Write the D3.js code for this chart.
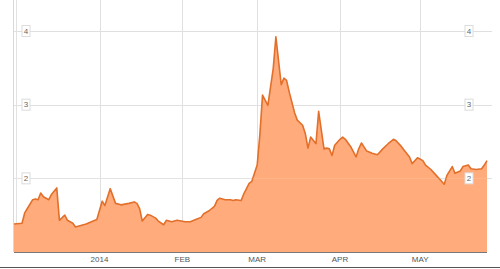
<!DOCTYPE html>
<html>
<head>
<meta charset="utf-8">
<script src="https://cdn.jsdelivr.net/npm/d3@7/dist/d3.min.js"></script>
<style>
  html, body { margin: 0; padding: 0; background: #fff; }
  svg { display: block; font-family: Arial, "Liberation Sans", sans-serif; }
</style>
</head>
<body>
<svg id="chart" width="500" height="269"></svg>
<script>
const dates = [
  "2013-11-30","2013-12-03","2013-12-04","2013-12-05","2013-12-07","2013-12-08","2013-12-09","2013-12-10",
  "2013-12-11","2013-12-13","2013-12-14","2013-12-16","2013-12-17","2013-12-19","2013-12-20","2013-12-22",
  "2013-12-23","2013-12-27","2013-12-31",
  "2014-01-02","2014-01-03","2014-01-05","2014-01-07","2014-01-09","2014-01-12","2014-01-14","2014-01-15",
  "2014-01-16","2014-01-17","2014-01-19","2014-01-20","2014-01-22","2014-01-23","2014-01-25","2014-01-26",
  "2014-01-28","2014-01-30",
  "2014-02-02","2014-02-04","2014-02-06","2014-02-08","2014-02-09","2014-02-11","2014-02-13","2014-02-14",
  "2014-02-15","2014-02-17","2014-02-19","2014-02-20","2014-02-21","2014-02-23","2014-02-24","2014-02-25",
  "2014-02-26","2014-02-27",
  "2014-03-01","2014-03-02","2014-03-03","2014-03-05","2014-03-07","2014-03-08","2014-03-10","2014-03-11",
  "2014-03-12","2014-03-13","2014-03-15","2014-03-16","2014-03-18","2014-03-19","2014-03-20","2014-03-21",
  "2014-03-23","2014-03-24","2014-03-26","2014-03-27","2014-03-28","2014-03-29","2014-03-30",
  "2014-04-01","2014-04-02","2014-04-03","2014-04-05","2014-04-07","2014-04-08","2014-04-09","2014-04-11",
  "2014-04-13","2014-04-15","2014-04-17","2014-04-19","2014-04-21","2014-04-22","2014-04-24","2014-04-25",
  "2014-04-27","2014-04-28","2014-04-30",
  "2014-05-02","2014-05-03","2014-05-05","2014-05-07","2014-05-09","2014-05-10","2014-05-11","2014-05-13",
  "2014-05-14","2014-05-16","2014-05-17","2014-05-19","2014-05-20","2014-05-22","2014-05-24","2014-05-25",
  "2014-05-26"
];
const values = [
  1.38,1.39,1.53,1.59,1.71,1.72,1.71,1.80,
  1.75,1.71,1.78,1.87,1.43,1.50,1.43,1.39,
  1.34,1.38,1.44,
  1.69,1.63,1.86,1.66,1.64,1.66,1.68,1.66,
  1.59,1.42,1.51,1.50,1.46,1.42,1.37,1.43,
  1.41,1.43,
  1.41,1.41,1.44,1.47,1.52,1.56,1.62,1.70,
  1.73,1.71,1.71,1.70,1.71,1.70,1.79,1.86,
  1.93,1.96,
  2.18,2.59,3.13,2.99,3.49,3.92,3.27,3.36,
  3.33,3.17,2.89,2.79,2.72,2.61,2.41,2.56,
  2.47,2.91,2.40,2.41,2.40,2.31,2.45,
  2.53,2.56,2.53,2.43,2.29,2.40,2.48,2.37,
  2.34,2.32,2.40,2.47,2.53,2.51,2.43,2.38,
  2.29,2.20,2.28,
  2.24,2.18,2.12,2.04,1.96,1.92,2.04,2.16,
  2.07,2.10,2.16,2.18,2.13,2.12,2.13,2.18,
  2.24
];
const monthTicks = ["2014-01-01","2014-02-01","2014-03-01","2014-04-01","2014-05-01"];
const monthLabels = ["2014","FEB","MAR","APR","MAY"];
const yTicks = [2, 3, 4];
const yDomain = [1, 4];

const parse = d3.timeParse("%Y-%m-%d");
const data = dates.map((d, i) => ({ date: parse(d), value: values[i] }));

const svg = d3.select("#chart");
const x = d3.scaleTime()
  .domain([parse(dates[0]), parse(dates[dates.length - 1])])
  .range([14, 487]);
const y = d3.scaleLinear().domain(yDomain).range([252, 31]);

// left border lines
svg.append("line").attr("x1", 13.5).attr("x2", 13.5).attr("y1", 0).attr("y2", 252)
  .attr("stroke", "#d8d8d8").attr("stroke-width", 1);
svg.append("line").attr("x1", 16.5).attr("x2", 16.5).attr("y1", 0).attr("y2", 252)
  .attr("stroke", "#e2e2e2").attr("stroke-width", 1);

// vertical gridlines
const tickDates = monthTicks.map(parse);
svg.append("g").selectAll("line").data(tickDates).join("line")
  .attr("x1", d => Math.round(x(d)) + 0.5).attr("x2", d => Math.round(x(d)) + 0.5)
  .attr("y1", 0).attr("y2", 252)
  .attr("stroke", "#e0e0e0").attr("stroke-width", 1);

// horizontal gridlines
svg.append("g").selectAll("line").data(yTicks).join("line")
  .attr("x1", 14).attr("x2", 492)
  .attr("y1", d => Math.round(y(d)) + 0.5).attr("y2", d => Math.round(y(d)) + 0.5)
  .attr("stroke", "#e0e0e0").attr("stroke-width", 1);

// area
const area = d3.area().x(d => x(d.date)).y0(y(yDomain[0])).y1(d => y(d.value));
const line = d3.line().x(d => x(d.date)).y(d => y(d.value));
svg.append("path").datum(data).attr("d", area).attr("fill", "#ffab7b");
svg.append("path").datum(data).attr("d", line)
  .attr("fill", "none").attr("stroke", "#e26f2a").attr("stroke-width", 1.6)
  .attr("stroke-linejoin", "round");

// gridlines over the area (faint)
svg.append("g").selectAll("line").data(yTicks.filter(v => v === 2)).join("line")
  .attr("x1", 14).attr("x2", 487)
  .attr("y1", d => Math.round(y(d)) + 0.5).attr("y2", d => Math.round(y(d)) + 0.5)
  .attr("stroke", "#ffffff").attr("stroke-opacity", 0.12);

// y labels (boxes) left and right
function yLabel(xc, v) {
  const g = svg.append("g").attr("transform", `translate(${xc},${y(v)})`);
  g.append("rect").attr("x", -4).attr("y", -5.5).attr("width", 8).attr("height", 11)
    .attr("fill", "#fff").attr("stroke", "#dcdcdc").attr("stroke-width", 1);
  g.append("text").attr("text-anchor", "middle").attr("dy", "0.35em")
    .attr("font-size", 8).attr("fill", "#666").text(v);
}
yTicks.forEach(v => { yLabel(26, v); yLabel(469, v); });

// x axis line
svg.append("line").attr("x1", 14).attr("x2", 487).attr("y1", 252.5).attr("y2", 252.5)
  .attr("stroke", "#777").attr("stroke-width", 1);
// bottom line
svg.append("line").attr("x1", 0).attr("x2", 500).attr("y1", 267.5).attr("y2", 267.5)
  .attr("stroke", "#555").attr("stroke-width", 1.2);

// x labels
svg.append("g").selectAll("text").data(tickDates).join("text")
  .attr("x", d => x(d)).attr("y", 262)
  .attr("text-anchor", "middle").attr("font-size", 8).attr("fill", "#555")
  .text((d, i) => monthLabels[i]);
</script>
</body>
</html>
